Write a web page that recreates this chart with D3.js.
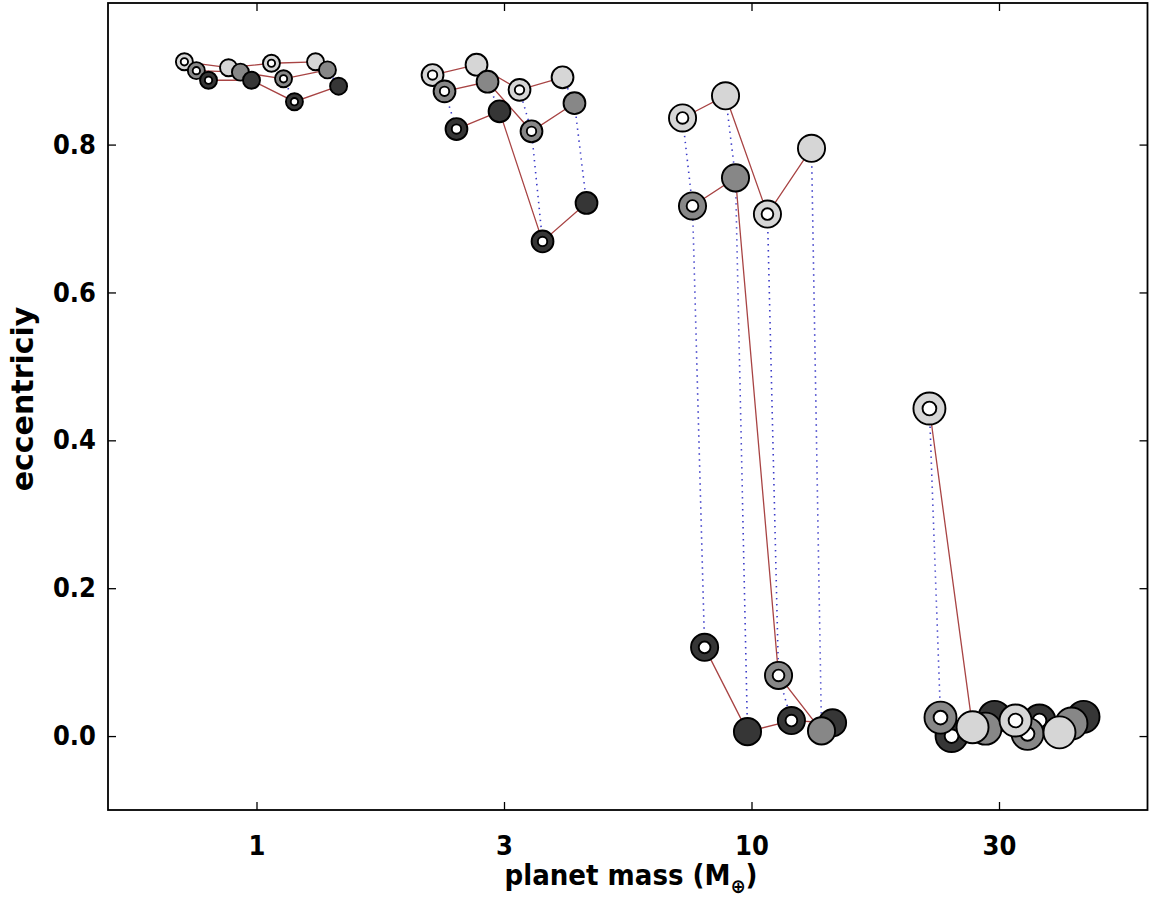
<!DOCTYPE html>
<html>
<head>
<meta charset="utf-8">
<script src="https://cdn.jsdelivr.net/npm/d3@7"></script>
<style>
  html, body { margin: 0; padding: 0; background: #fff; }
  svg { display: block; }
  text { font-family: "DejaVu Sans", sans-serif; font-weight: bold; }
</style>
</head>
<body>
<svg id="chart" width="1150" height="899"></svg>
<script>
// ---------------- data ----------------
// four mass groups (nominal planet mass, M_earth)
const groupMass = [1, 3, 10, 30];
// within each group: 4 stages (ring marker = stages 0 & 2, filled = stages 1 & 3)
const stageIsRing = [true, false, true, false];
// three series (light / mid / dark), 16 points each = 4 groups x 4 stages
const lightMass = [0.715, 0.878, 1.072, 1.316, 2.268, 2.783, 3.399, 4.152, 7.256, 8.862, 10.77, 13.22, 22.88, 27.96, 34.15, 41.9];
const lightEcc  = [0.912, 0.904, 0.910, 0.912, 0.894, 0.908, 0.874, 0.891, 0.836, 0.866, 0.706, 0.795, 0.443, 0.012, 0.021, 0.005];
const midMass   = [0.756, 0.928, 1.134, 1.391, 2.398, 2.929, 3.594, 4.389, 7.60, 9.283, 11.34, 13.85, 24.09, 29.7, 36.11, 44.3];
const midEcc    = [0.900, 0.898, 0.889, 0.901, 0.872, 0.885, 0.818, 0.856, 0.717, 0.755, 0.082, 0.007, 0.025, 0.010, 0.003, 0.017];
const darkMass  = [0.800, 0.977, 1.193, 1.465, 2.535, 3.097, 3.783, 4.642, 8.04, 9.815, 12.04, 14.58, 25.36, 30.97, 38.17, 46.86];
const darkEcc   = [0.887, 0.887, 0.858, 0.879, 0.821, 0.845, 0.669, 0.721, 0.120, 0.006, 0.021, 0.018, 0.000, 0.026, 0.021, 0.026];

const xTickValues = [1, Math.sqrt(10), 10, Math.sqrt(1000)];
const xTickLabels = ["1", "3", "10", "30"];
const yTickValues = [0.0, 0.2, 0.4, 0.6, 0.8];
const yTickLabels = ["0.0", "0.2", "0.4", "0.6", "0.8"];

// ---------------- layout ----------------
const svg = d3.select("#chart");
const L = 108, R = 1147.5, T = 3, B = 810;

const x = d3.scaleLog().domain([Math.pow(10, -0.3), Math.pow(10, 1.8)]).range([L, R]);
const y = d3.scaleLinear().domain([-0.1, 0.9915]).range([B, T]);
const rScale = d3.scaleLog().domain([1, 30]).range([8.5, 16]);

const seriesDefs = [
  {name: "light", mass: lightMass, ecc: lightEcc, fill: "#d6d6d6"},
  {name: "mid",   mass: midMass,   ecc: midEcc,   fill: "#878787"},
  {name: "dark",  mass: darkMass,  ecc: darkEcc,  fill: "#363636"}
];

const points = [];
seriesDefs.forEach((s, si) => {
  s.mass.forEach((m, i) => {
    const g = Math.floor(i / 4), st = i % 4;
    points.push({series: si, group: g, stage: st, m: m, e: s.ecc[i], fill: s.fill, ring: stageIsRing[st]});
  });
});

const plot = svg.append("g");
svg.append("clipPath").attr("id", "clip").append("rect").attr("x", L).attr("y", T).attr("width", R - L).attr("height", B - T);
plot.attr("clip-path", "url(#clip)");

const line = d3.line().x(d => x(d.m)).y(d => y(d.e));

// dotted lines: within group+stage, light -> mid -> dark
for (let g = 0; g < 4; g++) {
  for (let st = 0; st < 4; st++) {
    const pts = points.filter(p => p.group === g && p.stage === st).sort((a, b) => a.series - b.series);
    plot.append("path").attr("d", line(pts)).attr("fill", "none")
      .attr("stroke", "#3a3ac8").attr("stroke-width", 1.6).attr("stroke-dasharray", "1.4,4.6");
  }
}
// solid red lines: within group+series, stage 0->3
for (let g = 0; g < 4; g++) {
  for (let si = 0; si < 3; si++) {
    const pts = points.filter(p => p.group === g && p.series === si).sort((a, b) => a.stage - b.stage);
    plot.append("path").attr("d", line(pts)).attr("fill", "none")
      .attr("stroke", "#a84444").attr("stroke-width", 1.3);
  }
}
// markers
const order = [[0, 1, 2], [0, 1, 2], [2, 1, 0], [2, 1, 0]];
for (let g = 0; g < 4; g++) {
  const r = rScale(groupMass[g]);
  order[g].forEach(si => {
    points.filter(p => p.group === g && p.series === si).forEach(p => {
      const cx = x(p.m), cy = y(p.e);
      plot.append("circle").attr("cx", cx).attr("cy", cy).attr("r", r)
        .attr("fill", p.fill).attr("stroke", "#000").attr("stroke-width", 1.9);
      if (p.ring) {
        plot.append("circle").attr("cx", cx).attr("cy", cy).attr("r", r * 0.43)
          .attr("fill", "#fff").attr("stroke", "#000").attr("stroke-width", 1.9);
      }
    });
  });
}

// ---------------- axes ----------------
const tickLen = 8;
const xAxisB = d3.axisBottom(x).tickValues(xTickValues).tickFormat((d, i) => xTickLabels[i]).tickSizeInner(-tickLen).tickSizeOuter(0).tickPadding(26);
const xAxisT = d3.axisTop(x).tickValues(xTickValues).tickFormat("").tickSizeInner(-tickLen).tickSizeOuter(0);
const yAxisL = d3.axisLeft(y).tickValues(yTickValues).tickFormat((d, i) => yTickLabels[i]).tickSizeInner(-tickLen).tickSizeOuter(0).tickPadding(12);
const yAxisR = d3.axisRight(y).tickValues(yTickValues).tickFormat("").tickSizeInner(-tickLen).tickSizeOuter(0);

function styleAxis(sel) {
  sel.select(".domain").remove();
  sel.selectAll(".tick line").attr("stroke", "#000").attr("stroke-width", 1.3);
  sel.selectAll(".tick text").attr("fill", "#000").attr("font-size", 27).attr("font-weight", "bold")
    .attr("font-family", "DejaVu Sans, sans-serif").style("font-stretch", "condensed");
}
svg.append("g").attr("transform", `translate(0,${B})`).call(xAxisB).call(styleAxis);
svg.append("g").attr("transform", `translate(0,${T})`).call(xAxisT).call(styleAxis);
svg.append("g").attr("transform", `translate(${L},0)`).call(yAxisL).call(styleAxis);
svg.append("g").attr("transform", `translate(${R},0)`).call(yAxisR).call(styleAxis);

svg.append("rect").attr("x", L).attr("y", T).attr("width", R - L).attr("height", B - T)
  .attr("fill", "none").attr("stroke", "#000").attr("stroke-width", 1.8);

// axis titles
const xt = svg.append("text").attr("x", 631).attr("y", 885).attr("text-anchor", "middle")
  .attr("font-size", 29).attr("fill", "#000").style("font-stretch", "condensed");
xt.append("tspan").text("planet mass (M");
xt.append("tspan").attr("dy", 8).attr("font-size", 20).text("⊕");
xt.append("tspan").attr("dy", -8).text(")");

svg.append("text").attr("transform", `translate(33,399) rotate(-90)`)
  .attr("text-anchor", "middle").attr("font-size", 30).attr("fill", "#000").text("eccentriciy");
</script>
</body>
</html>
